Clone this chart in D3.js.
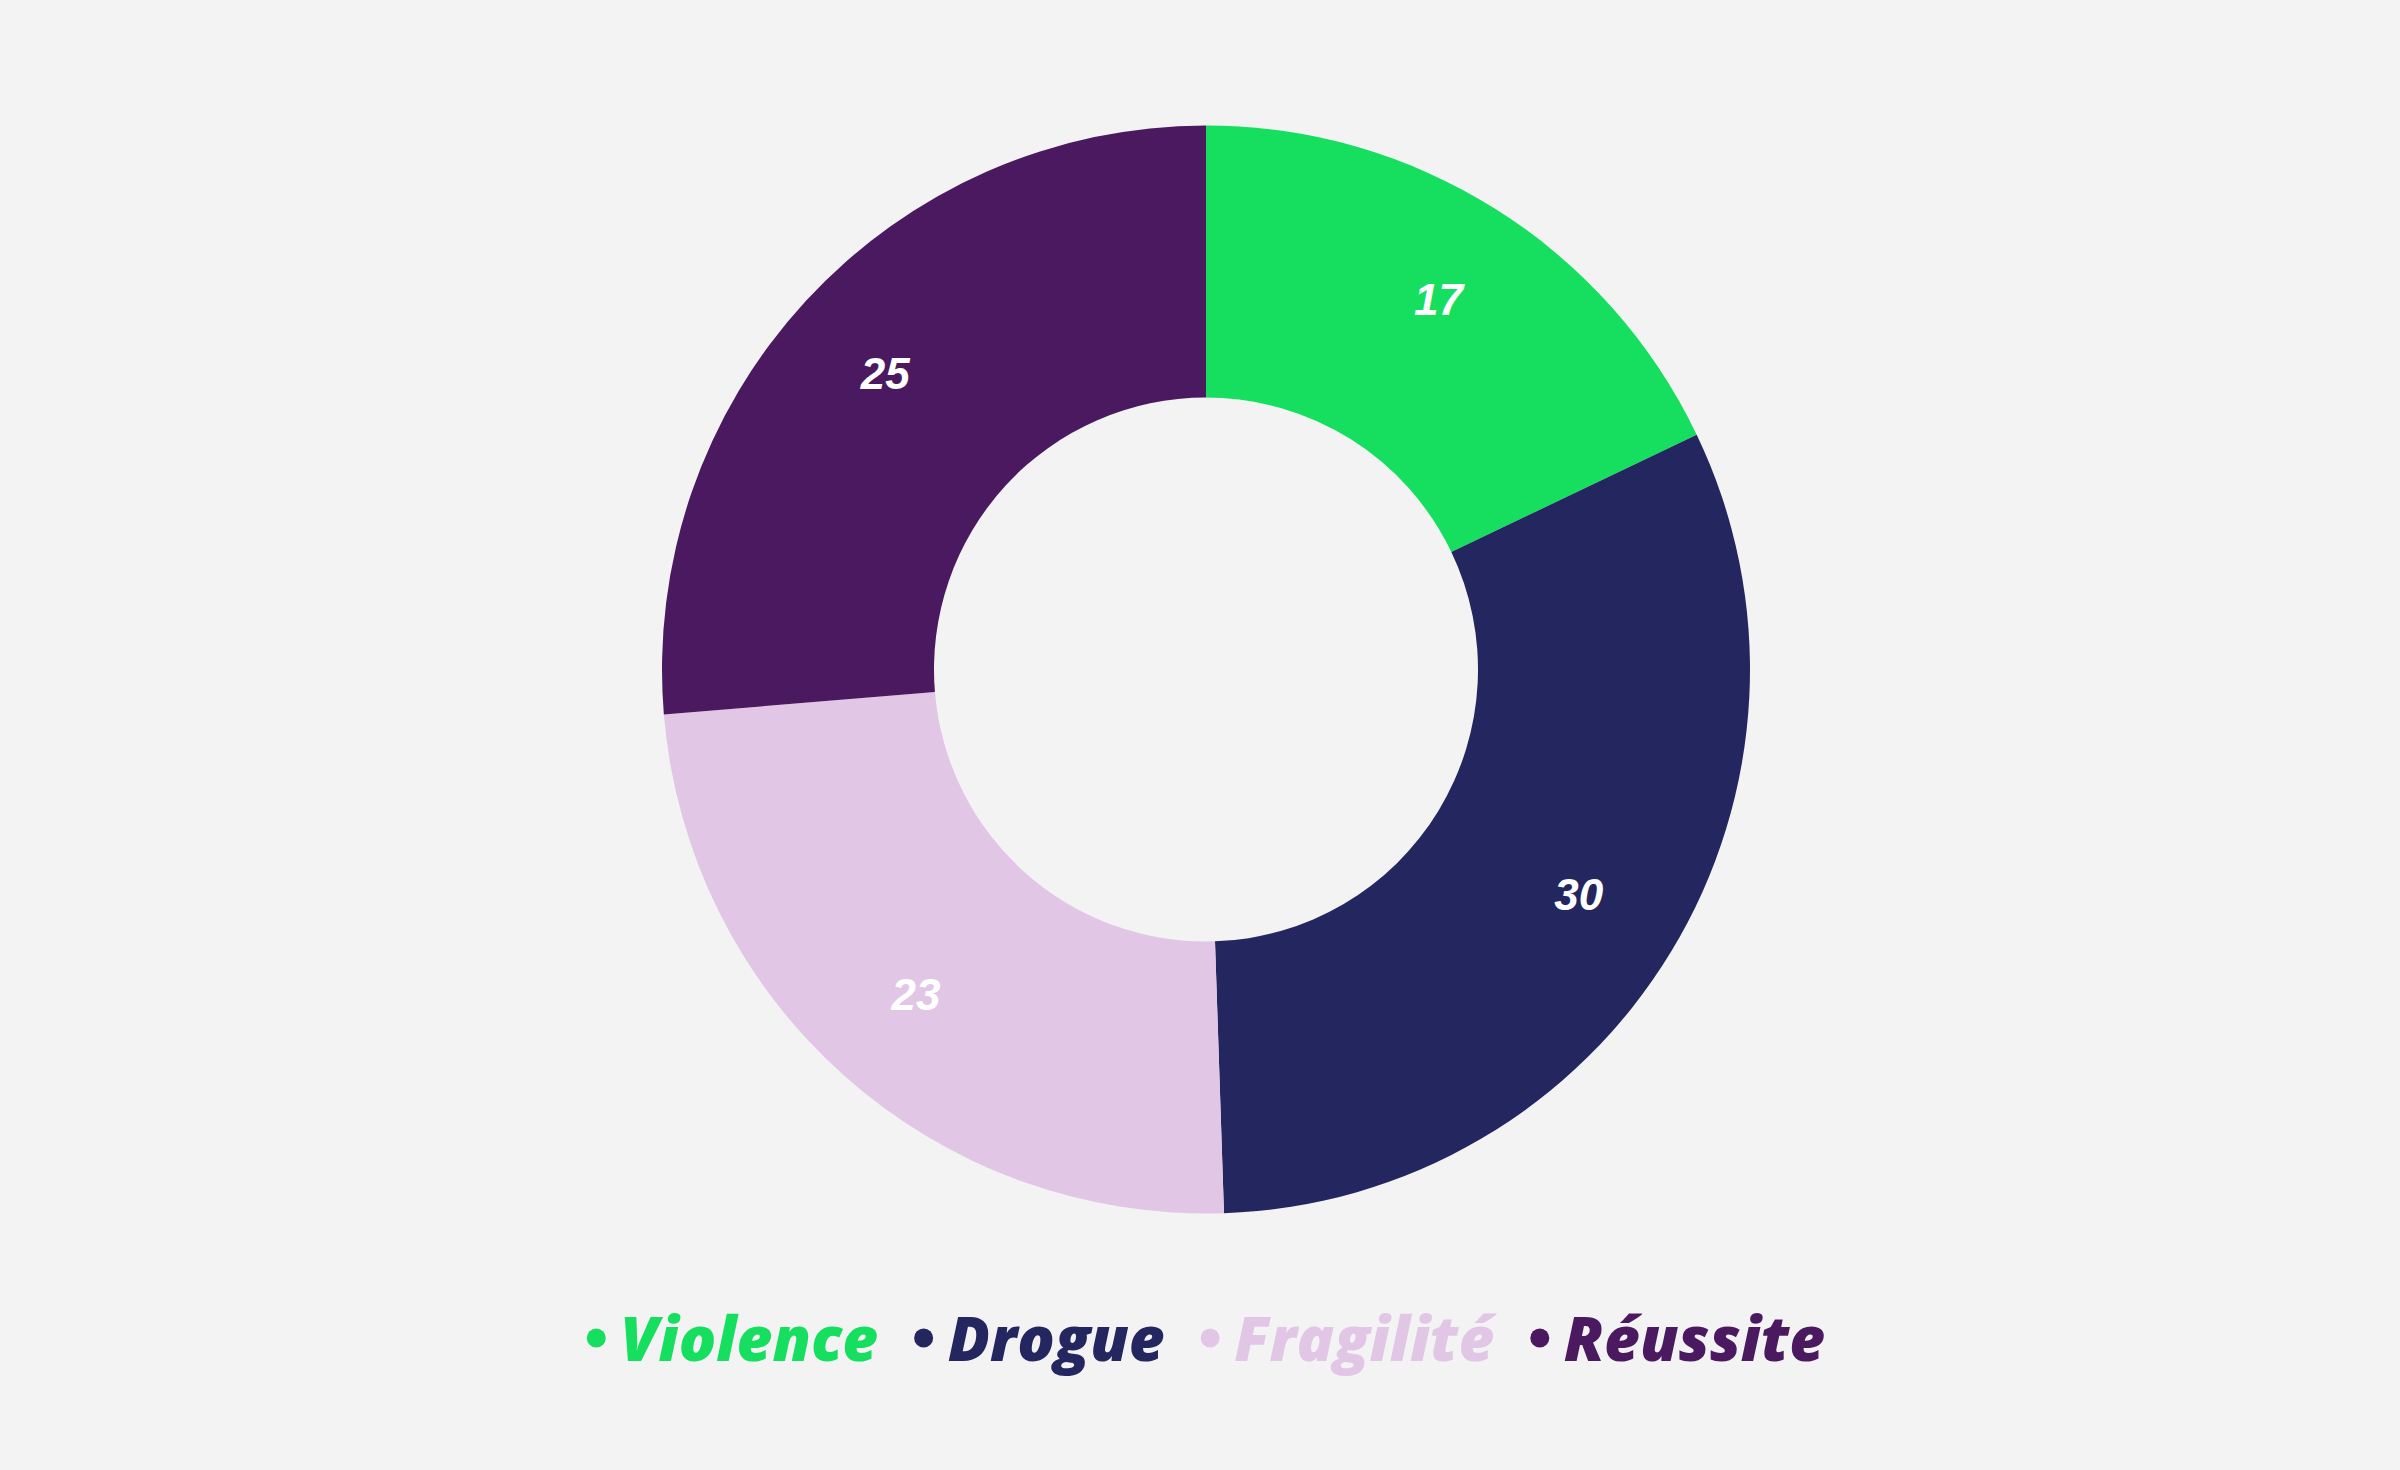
<!DOCTYPE html>
<html>
<head>
<meta charset="utf-8">
<script src="https://cdn.jsdelivr.net/npm/d3@7"></script>
<style>
  html, body { margin: 0; padding: 0; background: #f3f3f3; }
  svg { display: block; }
</style>
</head>
<body>
<div class="chart-area"></div>
<script>
// Donut chart: Violence / Drogue / Fragilité / Réussite

const categories = ["Violence", "Drogue", "Fragilité", "Réussite"];
const values = [17, 30, 23, 25];
const colors = ["#16df5f", "#242660", "#e1c7e5", "#4a1960"];

const width = 2400, height = 1470;
const cx = 1206, cy = 669.5;
const outerR = 544, innerR = 272, labelR = 436;

const svg = d3.select(".chart-area")
    .append("svg")
    .attr("width", width)
    .attr("height", height);

svg.append("rect")
    .attr("width", width)
    .attr("height", height)
    .attr("fill", "#f3f3f3");

const color = d3.scaleOrdinal().domain(categories).range(colors);

const data = categories.map((c, i) => ({ name: c, value: values[i] }));

const pie = d3.pie().sort(null).value(d => d.value);
const arc = d3.arc().innerRadius(innerR).outerRadius(outerR);
const labelArc = d3.arc().innerRadius(labelR).outerRadius(labelR);

const g = svg.append("g").attr("transform", `translate(${cx},${cy})`);

const arcs = pie(data);

g.selectAll("path.slice")
    .data(arcs)
    .enter()
    .append("path")
    .attr("class", "slice")
    .attr("d", arc)
    .attr("fill", d => color(d.data.name));

// value labels
g.selectAll("text.val")
    .data(arcs)
    .enter()
    .append("text")
    .attr("class", "val")
    .attr("transform", d => `translate(${labelArc.centroid(d)})`)
    .attr("text-anchor", "middle")
    .attr("dy", "0.33em")
    .attr("fill", "#ffffff")
    .style("font-family", "'Liberation Sans', Arial, sans-serif")
    .style("font-weight", "bold")
    .style("font-style", "italic")
    .style("font-size", "44px")
    .text(d => d.data.value);

// Legend
const legendY = 1361;
const bulletR = 9.5, bulletGap = 24, itemGap = 36;

const legend = svg.append("g").attr("class", "legend");
const items = legend.selectAll("g.item")
    .data(categories)
    .enter()
    .append("g")
    .attr("class", "item");

items.append("circle")
    .attr("r", bulletR)
    .attr("cy", legendY - 23)
    .attr("fill", d => color(d));

items.append("text")
    .attr("y", legendY)
    .attr("fill", d => color(d))
    .style("font-family", "'Open Sans', Lato, sans-serif")
    .style("font-weight", "800")
    .style("font-style", "italic")
    .style("font-size", "62px")
    .text(d => d);

// measure and centre the legend row
const widths = [];
items.select("text").each(function () { widths.push(this.getComputedTextLength()); });
const itemW = widths.map(w => bulletR + bulletGap + w);
const total = d3.sum(itemW) + itemGap * (categories.length - 1);
let xPos = cx - total / 2;
items.each(function (d, i) {
    const item = d3.select(this);
    item.select("circle").attr("cx", xPos + bulletR);
    item.select("text").attr("x", xPos + bulletR + bulletGap);
    xPos += itemW[i] + itemGap;
});
</script>
</body>
</html>
